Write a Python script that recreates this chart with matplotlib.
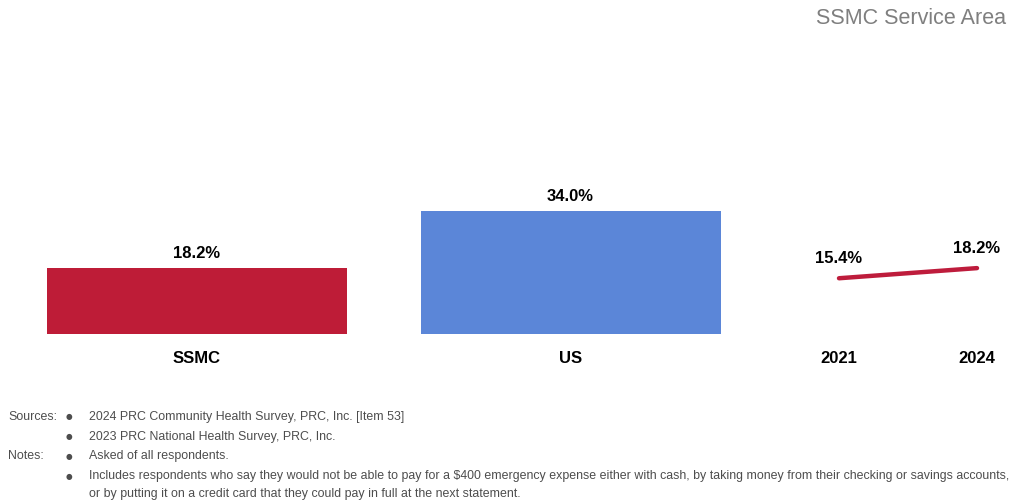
import matplotlib
matplotlib.use("Agg")
import matplotlib.pyplot as plt
from matplotlib import font_manager

names = {f.name for f in font_manager.fontManager.ttflist}
narrow = 'Liberation Sans Narrow' if 'Liberation Sans Narrow' in names else 'Liberation Sans'
plt.rcParams['font.family'] = [narrow, 'DejaVu Sans']

# Data
bar_categories = ["SSMC", "US"]
bar_values = [18.2, 34.0]
bar_colors = ["#BE1C37", "#5B86D8"]
trend_years = ["2021", "2024"]
trend_values = [15.4, 18.2]
title = "SSMC Service Area"
source_lines = ["2024 PRC Community Health Survey, PRC, Inc. [Item 53]",
                "2023 PRC National Health Survey, PRC, Inc."]
note_lines = ["Asked of all respondents.",
              "Includes respondents who say they would not be able to pay for a $400 emergency expense either with cash, by taking money from their checking or savings accounts,",
              "or by putting it on a credit card that they could pay in full at the next statement."]

W, H = 1014, 504
fig = plt.figure(figsize=(W/100, H/100), dpi=100)

ymax = 45.0
base_px = 334
px_per = 3.62
ax_h = ymax * px_per
ax_bottom = (H - base_px) / H

# Bars axes
spacing = 373.5
left_px = 197 - 0.5 * spacing
ax1 = fig.add_axes([left_px / W, ax_bottom, 2 * spacing / W, ax_h / H])
x = list(range(len(bar_categories)))
ax1.bar(x, bar_values, width=300 / spacing, color=bar_colors)
ax1.set_xlim(-0.5, 1.5)
ax1.set_ylim(0, ymax)
for xi, v in zip(x, bar_values):
    ax1.annotate(f"{v:.1f}%", (xi, v), xytext=(0, 5), textcoords="offset points",
                 ha="center", va="bottom", fontsize=12, fontweight="bold", color="black")

# Trend axes
sp2 = 138
left2 = 839 - 0.3 * sp2
ax2 = fig.add_axes([left2 / W, ax_bottom, 1.6 * sp2 / W, ax_h / H])
x2 = list(range(len(trend_years)))
ax2.plot(x2, trend_values, color="#BE1C3C", linewidth=3.2, solid_capstyle="round")
ax2.set_xlim(-0.3, 1.3)
ax2.set_ylim(0, ymax)
for xi, v in zip(x2, trend_values):
    ax2.annotate(f"{v:.1f}%", (xi, v), xytext=(0, 9), textcoords="offset points",
                 ha="center", va="bottom", fontsize=12, fontweight="bold", color="black")

for ax, labels, xs in ((ax1, bar_categories, x), (ax2, trend_years, x2)):
    ax.set_xticks(xs)
    ax.set_xticklabels(labels, fontsize=12, fontweight="bold", color="black")
    ax.tick_params(axis="x", length=0, pad=12)
    ax.set_yticks([])
    for s in ax.spines.values():
        s.set_visible(False)
    ax.patch.set_alpha(0)

fig.text(1006 / W, 1 - 18 / H, title, ha="right", va="center", fontsize=15.5,
         color="#7F7F7F", family=["Liberation Sans", "DejaVu Sans"])

fcol = "#4D4D4D"
fs = 8.9
rows = [("Sources:", True, source_lines[0]), ("", True, source_lines[1]),
        ("Notes:", True, note_lines[0]), ("", True, note_lines[1]), ("", False, note_lines[2])]
ys = [417, 437, 456, 476, 494]
for (lab, bullet, txt), yy in zip(rows, ys):
    yf = 1 - yy / H
    if lab:
        fig.text(8 / W, yf, lab, ha="left", va="center", fontsize=fs, color=fcol)
    if bullet:
        fig.text(69 / W, yf, "\u25CF", ha="center", va="center", fontsize=5.5, color=fcol,
                 family=["DejaVu Sans"])
    fig.text(89 / W, yf, txt, ha="left", va="center", fontsize=fs, color=fcol)

fig.savefig("out.png", dpi=100)
